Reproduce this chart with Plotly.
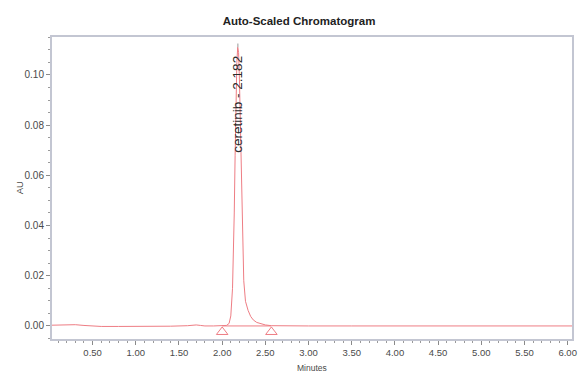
import plotly.graph_objects as go

# ---- data ----
time_min = [0.03, 0.10, 0.20, 0.25, 0.30, 0.40, 0.50, 0.60, 0.80, 1.00, 1.20, 1.40, 1.60,
            1.65, 1.70, 1.75, 1.80, 1.90, 2.00, 2.05, 2.08, 2.10, 2.12, 2.13, 2.14, 2.15,
            2.16, 2.17, 2.18, 2.19, 2.20, 2.21, 2.22, 2.23, 2.24, 2.25, 2.27, 2.30, 2.33,
            2.36, 2.40, 2.45, 2.50, 2.57, 2.70, 3.00, 3.50, 4.00, 4.50, 5.00, 5.50, 6.05]
au = [0.0003, 0.0004, 0.0005, 0.0006, 0.0005, 0.0002, 0.0000, -0.0002, -0.0002, -0.0002,
      -0.0002, -0.0001, 0.0001, 0.0003, 0.0004, 0.0002, 0.0000, 0.0000, 0.0000, 0.0002,
      0.0010, 0.0040, 0.0150, 0.0280, 0.0450, 0.0680, 0.0900, 0.1050, 0.1110, 0.1090,
      0.0980, 0.0800, 0.0600, 0.0410, 0.0270, 0.0180, 0.0098, 0.0062, 0.0038, 0.0024,
      0.0014, 0.0008, 0.0004, 0.0001, 0.0000, 0.0000, 0.0000, 0.0000, 0.0000, 0.0000,
      0.0000, 0.0000]

peak_name = "ceretinib"
peak_rt = 2.182
peak_height = 0.1110
leader_top = 0.1125
label_center_y = 0.0885

baseline_start = [2.00, 0.0]
baseline_end = [2.57, 0.0]
marker_y = -0.0024

x_ticks = [0.5, 1.0, 1.5, 2.0, 2.5, 3.0, 3.5, 4.0, 4.5, 5.0, 5.5, 6.0]
y_ticks = [0.00, 0.02, 0.04, 0.06, 0.08, 0.10]

LINE = "#ee7d84"
FRAME = "#c3c6d2"
TXT = "#4a4a4a"
FONT = "Liberation Sans, Arial, sans-serif"

fig = go.Figure()
fig.add_trace(go.Scatter(x=time_min, y=au, mode="lines",
                         line=dict(color=LINE, width=1), hoverinfo="skip"))
# integration baseline
fig.add_trace(go.Scatter(x=[baseline_start[0], baseline_end[0]],
                         y=[baseline_start[1], baseline_end[1]], mode="lines",
                         line=dict(color=LINE, width=1), hoverinfo="skip"))
# peak start/end markers
fig.add_trace(go.Scatter(x=[baseline_start[0], baseline_end[0]], y=[marker_y, marker_y],
                         mode="markers",
                         marker=dict(symbol="triangle-up-open", size=10,
                                     color=LINE, line=dict(width=1, color=LINE)),
                         hoverinfo="skip"))
# label leader
fig.add_trace(go.Scatter(x=[peak_rt, peak_rt], y=[peak_height, leader_top], mode="lines",
                         line=dict(color="#999999", width=1), hoverinfo="skip"))

fig.add_annotation(x=peak_rt, y=label_center_y, text=f"{peak_name} - {peak_rt:.3f}",
                   textangle=-90, showarrow=False, xanchor="center", yanchor="middle",
                   font=dict(family=FONT, size=13.5, color="#2a2a2a"))

fig.add_annotation(xref="paper", yref="paper", x=-0.063, y=0.5, text="AU",
                   textangle=-90, showarrow=False, xanchor="center", yanchor="middle",
                   font=dict(family=FONT, size=9.5, color=TXT))
fig.add_annotation(xref="paper", yref="paper", x=0.5, y=-0.095, text="Minutes",
                   showarrow=False, xanchor="center", yanchor="middle",
                   font=dict(family=FONT, size=8.5, color=TXT))

fig.update_layout(
    width=585, height=373,
    margin=dict(l=52, r=8, t=37, b=34),
    paper_bgcolor="white", plot_bgcolor="white",
    showlegend=False,
    title=dict(text="<b>Auto-Scaled Chromatogram</b>", x=299/585, xanchor="center",
               y=1 - 21/373, yanchor="middle", yref="container",
               font=dict(family=FONT, size=11.5, color="#222222")),
)
fig.update_xaxes(range=[0.03, 6.05], tickvals=x_ticks,
                 ticktext=[f"{v:.2f}" for v in x_ticks],
                 showgrid=False, zeroline=False, showline=True, mirror=True,
                 linecolor=FRAME, linewidth=2, ticks="outside", ticklen=4,
                 tickcolor="#8a8a8a", tickwidth=1,
                 tickfont=dict(family=FONT, size=9.5, color=TXT),
                 minor=dict(dtick=0.1, tick0=0, ticks="outside", ticklen=2,
                            tickcolor="#9a9a9a"))
fig.update_yaxes(range=[-0.0052, 0.1151], tickvals=y_ticks,
                 ticktext=[f"{v:.2f}" for v in y_ticks],
                 showgrid=False, zeroline=False, showline=True, mirror=True,
                 linecolor=FRAME, linewidth=2, ticks="outside", ticklen=4,
                 tickcolor="#8a8a8a", tickwidth=1,
                 tickfont=dict(family=FONT, size=10, color=TXT),
                 minor=dict(dtick=0.005, tick0=0, ticks="outside", ticklen=2,
                            tickcolor="#9a9a9a"))

fig.write_html("out.html")
